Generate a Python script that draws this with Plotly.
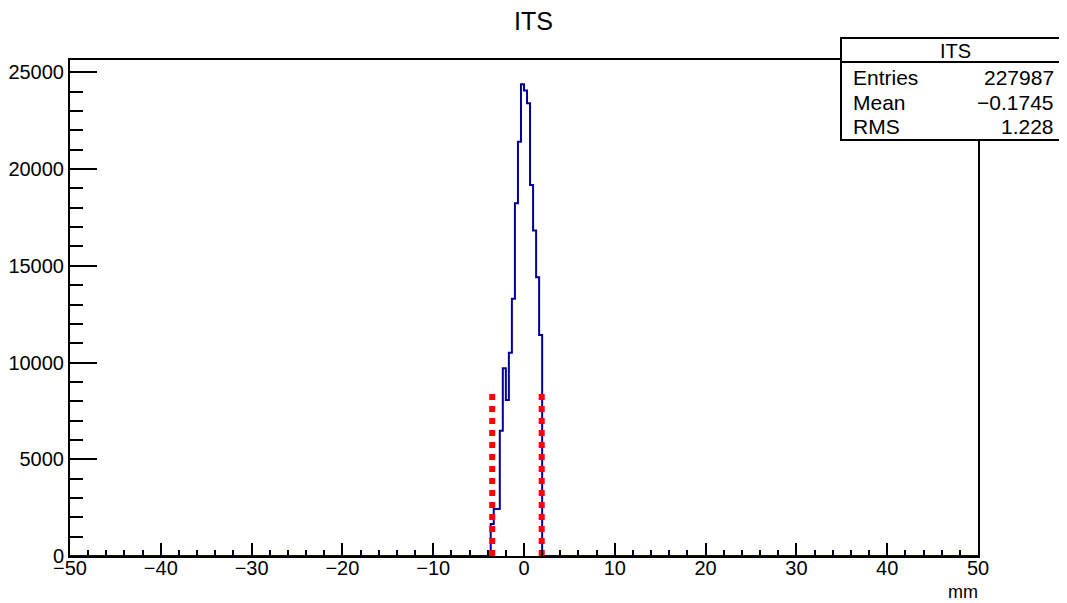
import numpy as np
import plotly.graph_objects as go

# ---- data ----
n_bins = 300
x_min, x_max = -50.0, 50.0
# nonzero bins: index of lower edge in units of 1/3 mm, and counts
bin_index = [-11, -10, -9, -8, -7, -6, -5, -4, -3, -2, -1, 0, 1, 2, 3, 4, 5]
bin_counts = [1650, 2430, 2430, 6480, 9700, 8070, 10510, 13300, 18240, 21420,
              24390, 24060, 23410, 19180, 16820, 14410, 11430]
cut_positions = [-3.5, 1.95]
cut_height = 8380
stats_title = "ITS"
stats_labels = ["Entries", "Mean", "RMS"]
stats_values = ["227987", "\u22120.1745", "1.228"]
x_ticks = [-50, -40, -30, -20, -10, 0, 10, 20, 30, 40, 50]
y_ticks = [0, 5000, 10000, 15000, 20000, 25000]

# ---- build histogram step line ----
width = (x_max - x_min) / n_bins
counts = np.zeros(n_bins)
for k, c in zip(bin_index, bin_counts):
    counts[int(round((k * width - x_min) / width))] = c
edges = x_min + width * np.arange(n_bins + 1)
xs = [edges[0]]
ys = [0]
for i in range(n_bins):
    xs += [edges[i], edges[i + 1]]
    ys += [counts[i], counts[i]]
xs.append(edges[-1]); ys.append(0)

FONT = "Liberation Sans, Arial, Helvetica, sans-serif"
OFF = 8  # page body margin
W, H = 1067 - OFF, 603 - OFF
fig = go.Figure()
fig.add_trace(go.Scatter(x=xs, y=ys, mode="lines",
                         line=dict(color="#000099", width=2), hoverinfo="skip"))
for xc in cut_positions:
    fig.add_trace(go.Scatter(x=[xc, xc], y=[cut_height, 0], mode="lines",
                             line=dict(color="#ff0000", width=6, dash="6px,6px")))

fig.update_layout(
    width=W, height=H,
    margin=dict(l=70 - OFF, r=89, t=60 - OFF, b=47),
    paper_bgcolor="white", plot_bgcolor="white",
    showlegend=False,
    font=dict(family=FONT, size=20, color="black"),
    title=dict(text="ITS", x=(533.5 - OFF) / W, xref="container", xanchor="center",
               y=1 - (21 - OFF) / H, yanchor="middle", font=dict(size=25, family=FONT)),
)
fig.update_xaxes(range=[x_min, x_max], tickvals=x_ticks,
                 ticktext=[str(v).replace("-", "\u2212") for v in x_ticks],
                 showgrid=False, zeroline=False, showline=True, linecolor="black",
                 linewidth=2, mirror=True, ticks="inside", ticklen=13, tickwidth=2,
                 tickcolor="black", automargin=False, ticklabelstandoff=-7,
                 minor=dict(dtick=2, ticks="inside", ticklen=6, tickwidth=2, tickcolor="black"))
fig.update_yaxes(range=[0, 25640], tickvals=y_ticks,
                 ticktext=[str(v) for v in y_ticks],
                 showgrid=False, zeroline=False, showline=True, linecolor="black",
                 linewidth=2, mirror=True, ticks="inside", ticklen=27, tickwidth=2,
                 tickcolor="black", automargin=False,
                 minor=dict(dtick=1000, ticks="inside", ticklen=13, tickwidth=2, tickcolor="black"))

# stats box / annotations positioned from screen pixels
def px_x(p):
    return (p - 70) / 908
def px_y(p):
    return (556 - p) / 496

# axis title "mm"
fig.add_annotation(text="mm", xref="paper", yref="paper", x=px_x(980), y=px_y(592),
                   xanchor="right", yanchor="middle", showarrow=False, font=dict(size=18))

fig.add_shape(type="rect", xref="paper", yref="paper",
              x0=px_x(841), x1=px_x(1066), y0=px_y(140), y1=px_y(38),
              line=dict(color="black", width=2), fillcolor="white", layer="above")
fig.add_shape(type="line", xref="paper", yref="paper",
              x0=px_x(841), x1=px_x(1066), y0=px_y(62), y1=px_y(62),
              line=dict(color="black", width=2), layer="above")
fig.add_annotation(text=stats_title, xref="paper", yref="paper", x=px_x(955), y=px_y(51),
                   xanchor="center", yanchor="middle", showarrow=False, font=dict(size=20))
for i, (lab, val) in enumerate(zip(stats_labels, stats_values)):
    yy = px_y(78 + 24 * i)
    fig.add_annotation(text=lab, xref="paper", yref="paper", x=px_x(851), y=yy,
                       xanchor="left", yanchor="middle", showarrow=False, font=dict(size=21))
    fig.add_annotation(text=val, xref="paper", yref="paper", x=px_x(1056), y=yy,
                       xanchor="right", yanchor="middle", showarrow=False, font=dict(size=21))

fig.write_html("out.html")
